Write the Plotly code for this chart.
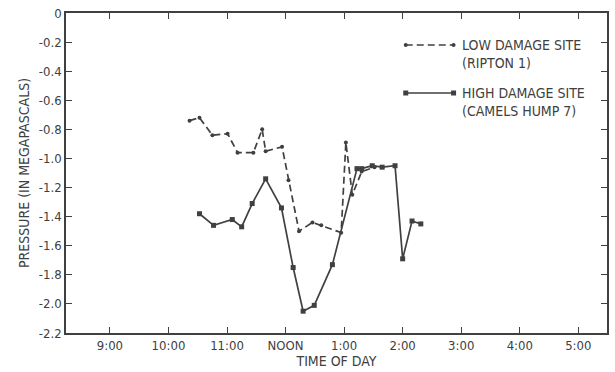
import plotly.graph_objects as go

# Time of day in decimal hours (24h clock)
low_time = [10.36, 10.53, 10.75, 11.01, 11.18, 11.45, 11.60, 11.66, 11.94, 12.05,
            12.23, 12.46, 12.61, 12.95, 13.03, 13.14, 13.30, 13.52]
low_pressure = [-0.74, -0.72, -0.84, -0.83, -0.96, -0.96, -0.80, -0.95, -0.92, -1.15,
                -1.50, -1.44, -1.46, -1.51, -0.89, -1.25, -1.09, -1.06]

high_time = [10.53, 10.77, 11.09, 11.25, 11.43, 11.66, 11.93, 12.13, 12.30, 12.49,
             12.80, 13.22, 13.30, 13.48, 13.65, 13.87, 14.00, 14.16, 14.31]
high_pressure = [-1.38, -1.46, -1.42, -1.47, -1.31, -1.14, -1.34, -1.75, -2.05, -2.01,
                 -1.73, -1.07, -1.07, -1.05, -1.06, -1.05, -1.69, -1.43, -1.45]

x_tick_vals = [9, 10, 11, 12, 13, 14, 15, 16, 17]
x_tick_text = ["9:00", "10:00", "11:00", "NOON", "1:00", "2:00", "3:00", "4:00", "5:00"]
y_tick_vals = [0, -0.2, -0.4, -0.6, -0.8, -1.0, -1.2, -1.4, -1.6, -1.8, -2.0, -2.2]
y_tick_text = ["0", "-0.2", "-0.4", "-0.6", "-0.8", "-1.0", "-1.2", "-1.4", "-1.6", "-1.8", "-2.0", "-2.2"]

INK = "#404040"
FONT = "Liberation Sans Narrow, DejaVu Sans Condensed, sans-serif"

fig = go.Figure()
fig.add_trace(go.Scatter(
    x=low_time, y=low_pressure, mode="lines+markers",
    line=dict(color=INK, width=1.7, dash="7px,4px"),
    marker=dict(symbol="circle", size=4, color=INK),
    showlegend=False))
fig.add_trace(go.Scatter(
    x=high_time, y=high_pressure, mode="lines+markers",
    line=dict(color=INK, width=1.7),
    marker=dict(symbol="square", size=5, color=INK),
    showlegend=False))

# custom legend (paper coordinates)
shapes = []
annotations = []
def px_to_paper_x(px):
    return (px - 66) / (609 - 66)
def px_to_paper_y(py):
    return (333 - py) / (333 - 13)

legend_items = [
    (45, "dash", "circle", "LOW DAMAGE SITE<br>(RIPTON 1)"),
    (93, "solid", "square", "HIGH DAMAGE SITE<br>(CAMELS HUMP 7)"),
]
for py, dash, sym, label in legend_items:
    y = px_to_paper_y(py)
    x0, x1 = px_to_paper_x(407), px_to_paper_x(455)
    shapes.append(dict(type="line", xref="paper", yref="paper", x0=x0, x1=x1, y0=y, y1=y,
                       line=dict(color=INK, width=1.7, dash="7px,4px" if dash == "dash" else "solid")))
    for xe in (x0, x1):
        r = 2 if sym == "circle" else 2.5
        shapes.append(dict(type="circle" if sym == "circle" else "rect", xref="paper", yref="paper",
                           xsizemode="pixel", ysizemode="pixel", xanchor=xe, yanchor=y,
                           x0=-r, x1=r, y0=-r, y1=r, fillcolor=INK, line=dict(width=0)))
    annotations.append(dict(xref="paper", yref="paper", x=px_to_paper_x(461), y=y,
                            xanchor="left", yanchor="top", yshift=10, text=label, showarrow=False,
                            align="left", font=dict(family=FONT, size=14, color=INK)))

axis_common = dict(showline=True, linecolor=INK, linewidth=1.5, mirror="ticks",
                   ticks="inside", ticklen=6, tickcolor=INK, tickwidth=1.2,
                   showgrid=False, zeroline=False,
                   tickfont=dict(family=FONT, size=13, color=INK))

fig.update_layout(
    width=615, height=372,
    margin=dict(l=66, r=6, t=13, b=39),
    plot_bgcolor="white", paper_bgcolor="white",
    xaxis=dict(range=[8.25, 17.49], tickvals=x_tick_vals, ticktext=x_tick_text,
               title=dict(text="TIME OF DAY", font=dict(family=FONT, size=14, color=INK), standoff=3),
               **axis_common),
    yaxis=dict(range=[-2.2, 0], tickvals=y_tick_vals, ticktext=y_tick_text,
               title=dict(text="PRESSURE (IN MEGAPASCALS)", font=dict(family=FONT, size=14, color=INK), standoff=6),
               **axis_common),
    shapes=shapes, annotations=annotations,
)

fig.write_html("out.html")
